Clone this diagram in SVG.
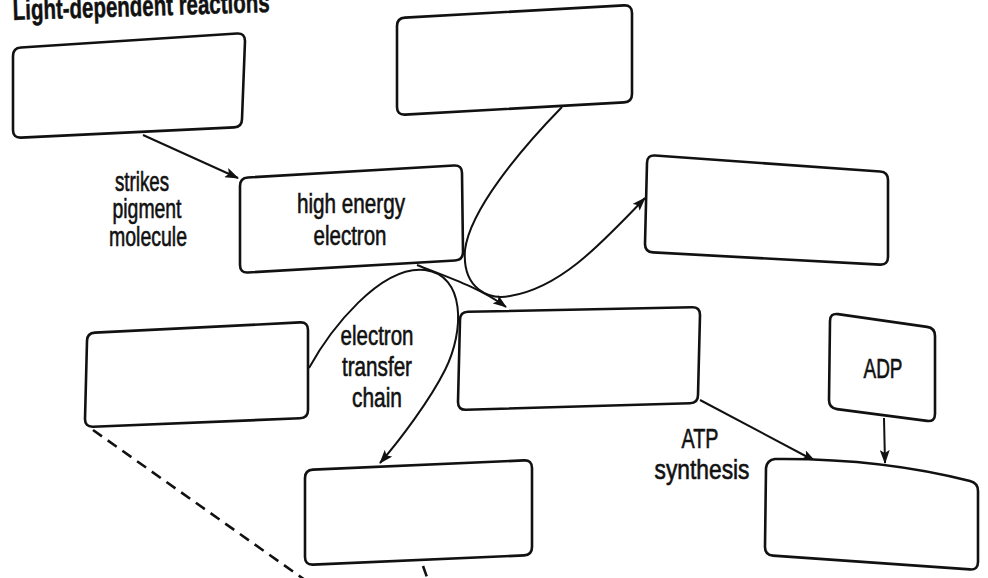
<svg xmlns="http://www.w3.org/2000/svg" width="988" height="578" viewBox="0 0 988 578">
<style>
.box{fill:#fff;stroke:#111;stroke-width:2.6;stroke-linejoin:round}
.con{fill:none;stroke:#111;stroke-width:2}
.dash{fill:none;stroke:#111;stroke-width:2.6;stroke-dasharray:11 7}
.lbl{font-family:"Liberation Sans",Arial,sans-serif;font-size:27px;fill:#111;stroke:#111;stroke-width:0.6;text-anchor:middle}
.title{font-family:"Liberation Sans",Arial,sans-serif;font-size:29px;font-weight:bold;fill:#111;stroke:#111;stroke-width:0.5}
</style>
<defs>
<marker id="ah" viewBox="0 0 14 10" refX="13" refY="5" markerWidth="14" markerHeight="10" orient="auto" markerUnits="userSpaceOnUse">
<path d="M0,0 L14,5 L0,10 L3,5 Z" fill="#111"/>
</marker>
</defs>
<rect width="988" height="578" fill="#fff"/>
<text class="title" x="13" y="20" textLength="257" lengthAdjust="spacingAndGlyphs" transform="rotate(-1.8 13 20)">Light-dependent reactions</text>

<g id="connectors">
<path class="con" d="M143,135 L238,178" marker-end="url(#ah)"/>
<path class="con" d="M562,107 C520,150 470,210 465,250 C462,290 490,300 510,296 C560,288 600,245 645,198" marker-end="url(#ah)"/>
<path class="con" d="M417,265 C450,278 480,288 506,307" marker-end="url(#ah)"/>
<path class="con" d="M309,368 C330,330 380,265 425,270 C465,275 465,330 445,370 C430,400 400,440 380,463" marker-end="url(#ah)"/>
<path class="con" d="M700,400 L815,461" marker-end="url(#ah)"/>
<path class="con" d="M884,418 L885,463" marker-end="url(#ah)"/>
<path class="dash" d="M93,430 L305,580"/>
<path class="dash" d="M423,566 L428,580"/>
</g>

<g id="box1"><path class="box" d="M21,47.5 L237,33.5 Q245,33 245,41 L242,119 Q242,127 234,127.4 L21,137.6 Q13,138 13,130 L13,56 Q13,48 21,47.5 Z"/></g>
<g id="box2"><path class="box" d="M405,17.6 L624,5.4 Q632,5 632,13 L632,94 Q632,102 624,102.4 L405,114.6 Q397,115 397,107 L397,26 Q397,18 405,17.6 Z"/></g>
<g id="box3"><path class="box" d="M248,177.5 L454,165.5 Q462,165 462,173 L463,252 Q463,260 455,260.5 L248,272.5 Q240,273 240,265 L240,186 Q240,178 248,177.5 Z"/>
<text class="lbl" x="351" y="213" textLength="108" lengthAdjust="spacingAndGlyphs">high energy</text>
<text class="lbl" x="350" y="245" textLength="73" lengthAdjust="spacingAndGlyphs">electron</text></g>
<g id="box4"><path class="box" d="M655,155.5 L880,171.5 Q888,172 888,180 L888,257 Q888,265 880,264.6 L653,252.4 Q645,252 645,244 L647,163 Q647,155 655,155.5 Z"/></g>
<g id="box5"><path class="box" d="M95,332.6 L300,322.4 Q308,322 308,330 L308,410 Q308,418 300,418.3 L93,426.7 Q85,427 85,419 L87,341 Q87,333 95,332.6 Z"/></g>
<g id="box6"><path class="box" d="M468,311.8 L692,307.2 Q700,307 700,315 L698,395 Q698,403 690,403.2 L466,409.8 Q458,410 458,402 L460,320 Q460,312 468,311.8 Z"/></g>
<g id="box7"><path class="box" d="M838,314.1 L927,326.9 Q935,328 935,336 L935,414 Q935,422 927,420.9 L837,409.1 Q829,408 829,400 L830,321 Q830,313 838,314.1 Z"/>
<text class="lbl" x="883" y="378" textLength="39" lengthAdjust="spacingAndGlyphs">ADP</text></g>
<g id="box8"><path class="box" d="M313,469.6 L524,460.4 Q532,460 532,468 L532,547 Q532,555 524,555.4 L313,564.6 Q305,565 305,557 L305,478 Q305,470 313,469.6 Z"/></g>
<g id="box9"><path class="box" d="M775,459 Q880,458 970,481 Q978,483 978,491 L978,562 Q978,570 970,569.4 L773,555.6 Q765,555 765,547 L766,468 Q767,460 775,459 Z"/></g>

<g id="labels">
<text class="lbl" x="142" y="191" textLength="54" lengthAdjust="spacingAndGlyphs">strikes</text>
<text class="lbl" x="147" y="218" textLength="69" lengthAdjust="spacingAndGlyphs">pigment</text>
<text class="lbl" x="148" y="246" textLength="78" lengthAdjust="spacingAndGlyphs">molecule</text>
<text class="lbl" x="377" y="345" textLength="73" lengthAdjust="spacingAndGlyphs">electron</text>
<text class="lbl" x="377" y="376" textLength="70" lengthAdjust="spacingAndGlyphs">transfer</text>
<text class="lbl" x="377" y="407" textLength="50" lengthAdjust="spacingAndGlyphs">chain</text>
<text class="lbl" x="700" y="448" textLength="37" lengthAdjust="spacingAndGlyphs">ATP</text>
<text class="lbl" x="702" y="479" textLength="95" lengthAdjust="spacingAndGlyphs">synthesis</text>
</g>
</svg>
